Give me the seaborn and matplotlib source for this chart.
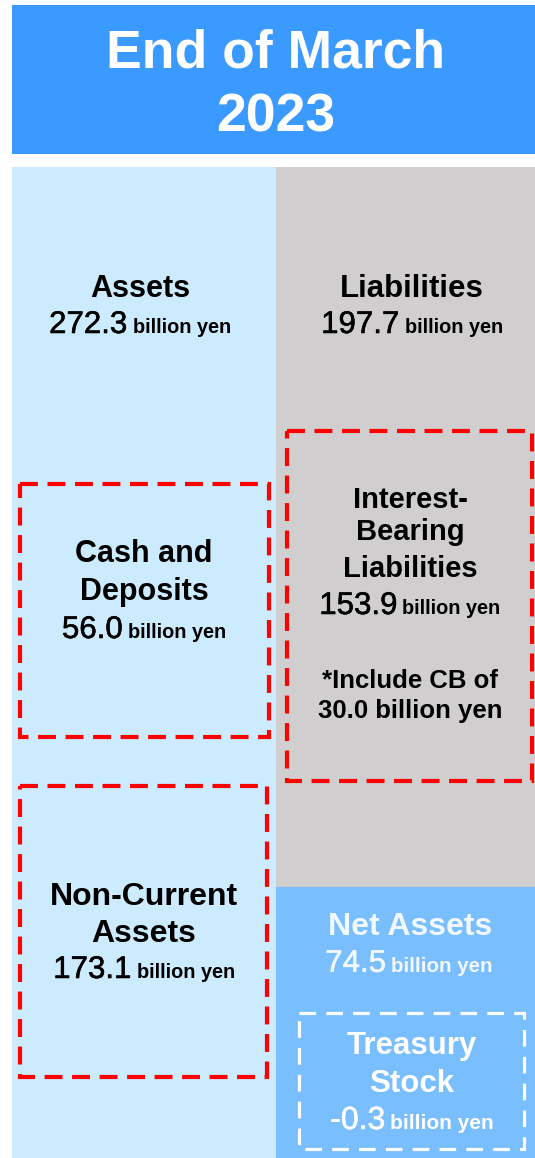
import matplotlib
matplotlib.use("Agg")
import matplotlib.pyplot as plt
import matplotlib.patheffects as pe
import seaborn as sns
import pandas as pd
from matplotlib.patches import Rectangle

# ---------------- data ----------------
title_lines = ["End of March", "2023"]
sides = ["Assets", "Liabilities and Net Assets"]
assets_total = 272.3
liabilities = 197.7
net_assets = 74.5
cash_deposits = 56.0
non_current = 173.1
interest_bearing = 153.9
convertible_bonds = 30.0
treasury_stock = -0.3
unit = "billion yen"

# ---------------- style ----------------
C_TITLE = "#3A9AFF"
C_ASSET = "#CCEBFF"
C_LIAB = "#D0CECE"
C_NET = "#79BEFF"
C_RED = "#FF0000"
BOLD = "Liberation Sans"
NUM = "Liberation Sans"

sns.set_theme(style="white")
plt.rcParams["font.family"] = ["Liberation Sans", "DejaVu Sans"]

W, H = 535, 1158
fig = plt.figure(figsize=(W / 100, H / 100), dpi=100)
fig.patch.set_facecolor("white")

# ---- bar axes (data units: billion yen, growing downward) ----
ax = fig.add_axes([0, 0, 1, 1])
ax.set_facecolor("white")
df_tot = pd.DataFrame({"side": sides, "value": [assets_total, liabilities + net_assets]})
sns.barplot(data=df_tot, x="side", y="value", hue="side", order=sides, hue_order=sides,
            palette=[C_ASSET, C_NET], width=1.0, saturation=1, linewidth=0,
            legend=False, ax=ax)
df_liab = pd.DataFrame({"side": [sides[1]], "value": [liabilities]})
sns.barplot(data=df_liab, x="side", y="value", order=sides, color=C_LIAB,
            width=1.0, saturation=1, linewidth=0, ax=ax)

col_left_px, col_w_px = 12, 264
col_top_px = 167
x0 = -0.5 - col_left_px / col_w_px
ax.set_xlim(x0, x0 + W / col_w_px)
y_end = min(df_tot["value"])
scale = (H - col_top_px) / y_end          # px per billion yen
ax.set_ylim(y_end, -col_top_px / scale)
ax.axis("off")

# ---- overlay axes in pixel units for title, frames and labels ----
ov = fig.add_axes([0, 0, 1, 1])
ov.patch.set_alpha(0)
ov.set_xlim(0, W)
ov.set_ylim(H, 0)
ov.axis("off")

ov.add_patch(Rectangle((12, 5), W, 149, facecolor=C_TITLE, edgecolor="none", zorder=1))
ov.text(276, 68, title_lines[0], fontsize=38.5, fontweight="bold", family=BOLD,
        color="white", ha="center", va="baseline", zorder=3)
ov.text(276, 132, title_lines[1], fontsize=38.5, fontweight="bold", family=BOLD,
        color="white", ha="center", va="baseline", zorder=3)


def frame(x, y, w, h, color, lw, dash):
    ov.add_patch(Rectangle((x, y), w, h, facecolor="none", edgecolor=color,
                           linewidth=lw, linestyle=(0, dash), zorder=2,
                           joinstyle="miter"))


frame(19.5, 484, 249, 253, C_RED, 3, (4.3, 2.3))
frame(20, 786, 247, 291, C_RED, 3, (4.3, 2.3))
frame(287, 431, 245, 350, C_RED, 3, (4.3, 2.3))
frame(299, 1013, 225, 136, "white", 2.3, (5.2, 3.2))

renderer = fig.canvas.get_renderer()


def label(cx, base, s, size, color="black"):
    ov.text(cx, base, s, fontsize=size, fontweight="bold", family=BOLD,
            color=color, ha="center", va="baseline", zorder=3)


def value_line(cx, base, value, num_size=22.5, unit_size=14.3, color="black", gap=5):
    t1 = ov.text(0, base, f"{value:.1f}", fontsize=num_size, family=NUM,
                 color=color, ha="left", va="baseline", zorder=3,
                 path_effects=[pe.withStroke(linewidth=0.4, foreground=color)])
    t2 = ov.text(0, base, unit, fontsize=unit_size, fontweight="bold", family=BOLD,
                 color=color, ha="left", va="baseline", zorder=3)
    w1 = t1.get_window_extent(renderer).width
    w2 = t2.get_window_extent(renderer).width
    start = cx - (w1 + gap + w2) / 2
    t1.set_x(start)
    t2.set_x(start + w1 + gap)


# Assets / Liabilities headers
label(140, 297, "Assets", 22)
value_line(140, 333, assets_total)
label(412, 297, "Liabilities", 22.5)
value_line(412, 333, liabilities)

# Cash and deposits
label(144, 562, "Cash and", 22)
label(144, 600, "Deposits", 22)
value_line(144, 638, cash_deposits)

# Non-current assets
label(144, 905, "Non-Current", 23)
label(144, 942, "Assets", 23)
value_line(144, 978, non_current)

# Interest-bearing liabilities
label(410, 508, "Interest-", 21)
label(410, 540, "Bearing", 21)
label(410, 577, "Liabilities", 21)
value_line(410, 614, interest_bearing)
label(410, 688, "*Include CB of", 18.5)
label(410, 718, f"{convertible_bonds:.1f} {unit}", 18.5)

# Net assets (positioned relative to the liabilities / net assets boundary)
boundary_px = col_top_px + liabilities * scale
label(410, boundary_px + 48, "Net Assets", 23, color="#F2F8FF")
value_line(409, boundary_px + 85, net_assets, unit_size=14.8, color="#F2F8FF")

# Treasury stock
label(412, 1054, "Treasury", 22.5, color="white")
label(412, 1092, "Stock", 22.5, color="white")
value_line(412, 1129, treasury_stock, num_size=23, unit_size=15, color="white")

fig.savefig("out.png", dpi=100, facecolor="white")
